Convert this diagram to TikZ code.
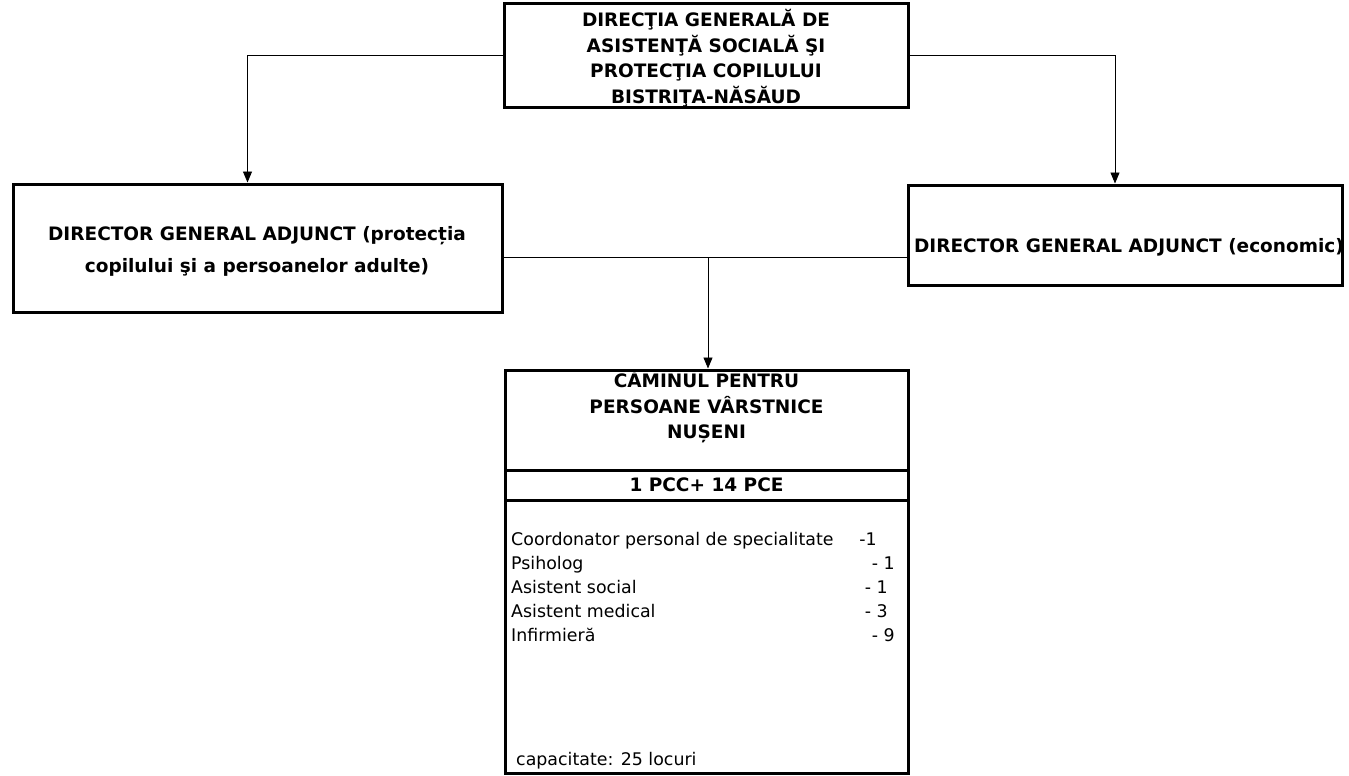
\documentclass[tikz,border=0pt]{standalone}
\usepackage{fontspec}
\setmainfont{DejaVu Sans}
\usetikzlibrary{arrows.meta}
\begin{document}
\begin{tikzpicture}[x=1pt,y=-1pt,
  box/.style={draw,line width=3pt,rectangle,inner sep=0pt},
  conn/.style={line width=0.9pt},
  arr/.style={conn,-{Triangle[width=9pt,length=11pt]}},
  bt/.style={font=\bfseries\fontsize{18.5}{25.5}\selectfont,align=center,inner sep=0pt},
  rt/.style={font=\fontsize{17.4}{20}\selectfont,inner sep=0pt,anchor=base west},
  rn/.style={font=\fontsize{17.4}{20}\selectfont,inner sep=0pt,anchor=base east}]
\useasboundingbox (0,0) rectangle (1349,776);
% boxes
\node[box,minimum width=404pt,minimum height=103pt] (top) at (706,55.5) {};
\node[box,minimum width=489pt,minimum height=128pt] (left) at (257.5,248) {};
\node[box,minimum width=434pt,minimum height=100pt] (right) at (1125,235) {};
\node[box,minimum width=403pt,minimum height=403pt] (mid) at (706.5,571.5) {};
\coordinate (d1l) at (505,470); \coordinate (d1r) at (908,470);
\coordinate (d2l) at (505,500); \coordinate (d2r) at (908,500);
\draw[line width=3pt] (d1l) -- (d1r);
\draw[line width=3pt] (d2l) -- (d2r);
% texts
\node[bt] (ttop) at (706,58) {DIRECŢIA GENERALĂ DE\\ASISTENŢĂ SOCIALĂ ŞI\\PROTECŢIA COPILULUI\\BISTRIŢA-NĂSĂUD};
\node[bt,font=\bfseries\fontsize{18.5}{32}\selectfont] (tleft) at (257,251) {DIRECTOR GENERAL ADJUNCT (protecția\\copilului şi a persoanelor adulte)};
\node[bt] (tright) at (1129,247) {DIRECTOR GENERAL ADJUNCT (economic)};
\node[bt] (tmid) at (706.5,407) {CĂMINUL PENTRU\\PERSOANE VÂRSTNICE\\NUȘENI};
\node[bt] (tpcc) at (706.5,485) {1 PCC+ 14 PCE};
\node[rt] (r1) at (511,545) {Coordonator personal de specialitate};
\node[rt] (r2) at (511,569) {Psiholog};
\node[rt] (r3) at (511,593) {Asistent social};
\node[rt] (r4) at (511,617) {Asistent medical};
\node[rt] (r5) at (511,641) {Infirmieră};
\node[rn] (n1) at (877,545) {-1};
\node[rn] (n2) at (895,569) {- 1};
\node[rn] (n3) at (888,593) {- 1};
\node[rn] (n4) at (888,617) {- 3};
\node[rn] (n5) at (895,641) {- 9};
\node[rt] (cap) at (516,765) {capacitate: 25 locuri};
% connectors
\draw[arr] (top.west) -| ([xshift=-10pt]left.north);
\draw[arr] (top.east) -| ([xshift=-10pt]right.north);
\coordinate (hl) at (502,257); \coordinate (hr) at (908,257); \coordinate (hm) at (708,257);
\draw[conn] (hl) -- (hr);
\draw[arr] (hm) -- (hm |- mid.north);
\end{tikzpicture}
\end{document}
